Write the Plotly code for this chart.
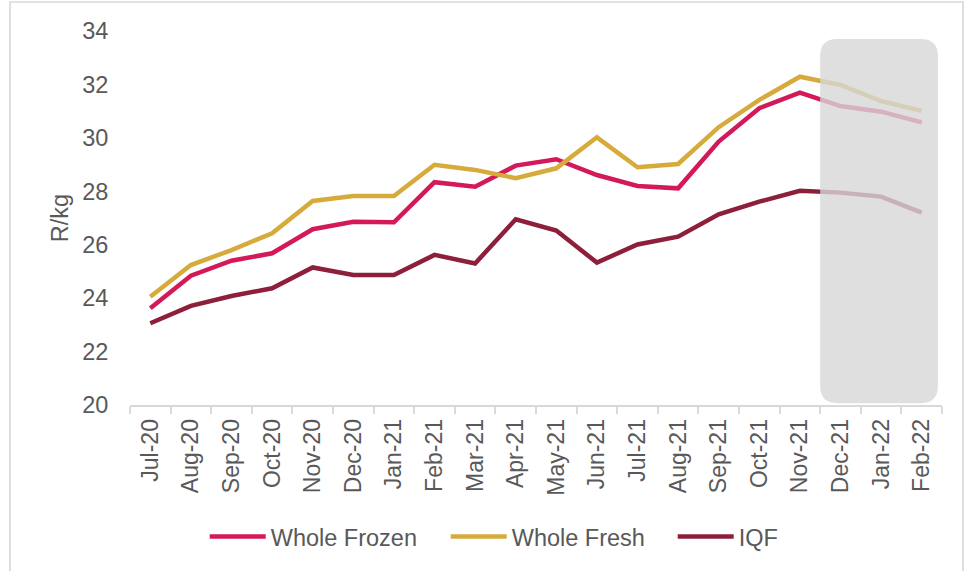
import plotly.graph_objects as go

months = ["Jul-20", "Aug-20", "Sep-20", "Oct-20", "Nov-20", "Dec-20", "Jan-21", "Feb-21",
          "Mar-21", "Apr-21", "May-21", "Jun-21", "Jul-21", "Aug-21", "Sep-21", "Oct-21",
          "Nov-21", "Dec-21", "Jan-22", "Feb-22"]

whole_frozen = [23.62, 24.84, 25.40, 25.68, 26.58, 26.86, 26.84, 28.34, 28.17, 28.96,
                29.20, 28.61, 28.20, 28.11, 29.86, 31.11, 31.69, 31.19, 30.98, 30.58]
whole_fresh = [24.05, 25.24, 25.80, 26.43, 27.64, 27.82, 27.82, 28.99, 28.80, 28.49,
               28.86, 30.02, 28.90, 29.02, 30.40, 31.42, 32.29, 31.98, 31.38, 31.01]
iqf = [23.06, 23.71, 24.08, 24.37, 25.15, 24.87, 24.87, 25.62, 25.30, 26.95,
       26.53, 25.33, 26.01, 26.30, 27.14, 27.61, 28.02, 27.95, 27.80, 27.20]

series_names = ["Whole Frozen", "Whole Fresh", "IQF"]
series_values = [whole_frozen, whole_fresh, iqf]
series_colors = ["#D4195B", "#D6AB3B", "#8D1F3B"]
legend_widths = [170, 156, 60]

y_ticks = [20, 22, 24, 26, 28, 30, 32, 34]

FONT = "Liberation Sans, Arial, sans-serif"
TXT = "#595959"
GRID = "#D9D9D9"

fig = go.Figure()
for name, vals, col, lw in zip(series_names, series_values, series_colors, legend_widths):
    fig.add_trace(go.Scatter(x=months, y=vals, name=name, mode="lines",
                             line=dict(color=col, width=4.5), legendwidth=lw))

# highlighted forecast region (rounded rectangle), in category-index / data units
hx0, hx1, hy0, hy1 = 16.5, 19.4, 20.07, 33.7
rx, ry = 0.42, 0.64
path = (f"M{hx0+rx},{hy1} L{hx1-rx},{hy1} Q{hx1},{hy1} {hx1},{hy1-ry} "
        f"L{hx1},{hy0+ry} Q{hx1},{hy0} {hx1-rx},{hy0} L{hx0+rx},{hy0} "
        f"Q{hx0},{hy0} {hx0},{hy0+ry} L{hx0},{hy1-ry} Q{hx0},{hy1} {hx0+rx},{hy1} Z")
fig.add_shape(type="path", path=path, xref="x", yref="y",
              fillcolor="rgba(215,215,215,0.8)", line=dict(width=0), layer="above")

# outer chart frame
fig.add_shape(type="rect", xref="paper", yref="paper",
              x0=-0.1478, x1=1.0259, y0=-0.46, y1=1.0775,
              line=dict(color=GRID, width=1.7), fillcolor="rgba(0,0,0,0)", layer="below")

fig.update_layout(
    width=976, height=571,
    margin=dict(l=130, r=34, t=31, b=166),
    paper_bgcolor="white", plot_bgcolor="white",
    font=dict(family=FONT, size=23.5, color=TXT),
    showlegend=True,
    legend=dict(orientation="h", x=0.092, xanchor="left", y=-0.352, yanchor="middle",
                font=dict(family=FONT, size=23.5, color=TXT), itemwidth=56,
                entrywidthmode="pixels",
                bgcolor="rgba(0,0,0,0)"),
    xaxis=dict(type="category", categoryorder="array", categoryarray=months,
               range=[-0.5, len(months) - 0.5],
               tickangle=-90, tickson="boundaries", ticks="outside", ticklen=7,
               tickcolor=GRID, tickwidth=1.5, ticklabelstandoff=3,
               showline=True, linecolor=GRID, linewidth=1.7,
               showgrid=False, zeroline=False,
               tickfont=dict(family=FONT, size=23, color=TXT)),
    yaxis=dict(range=[20, 34], tickvals=y_ticks, showgrid=False, zeroline=False,
               showline=False, ticks="outside", ticklen=16, tickcolor="rgba(0,0,0,0)",
               tickfont=dict(family=FONT, size=23.5, color=TXT),
               title=dict(text="R/kg", font=dict(family=FONT, size=23.5, color=TXT),
                          standoff=6)),
)

fig.write_html("out.html", config={"displayModeBar": False},
               post_script="document.body.style.margin='0';")
